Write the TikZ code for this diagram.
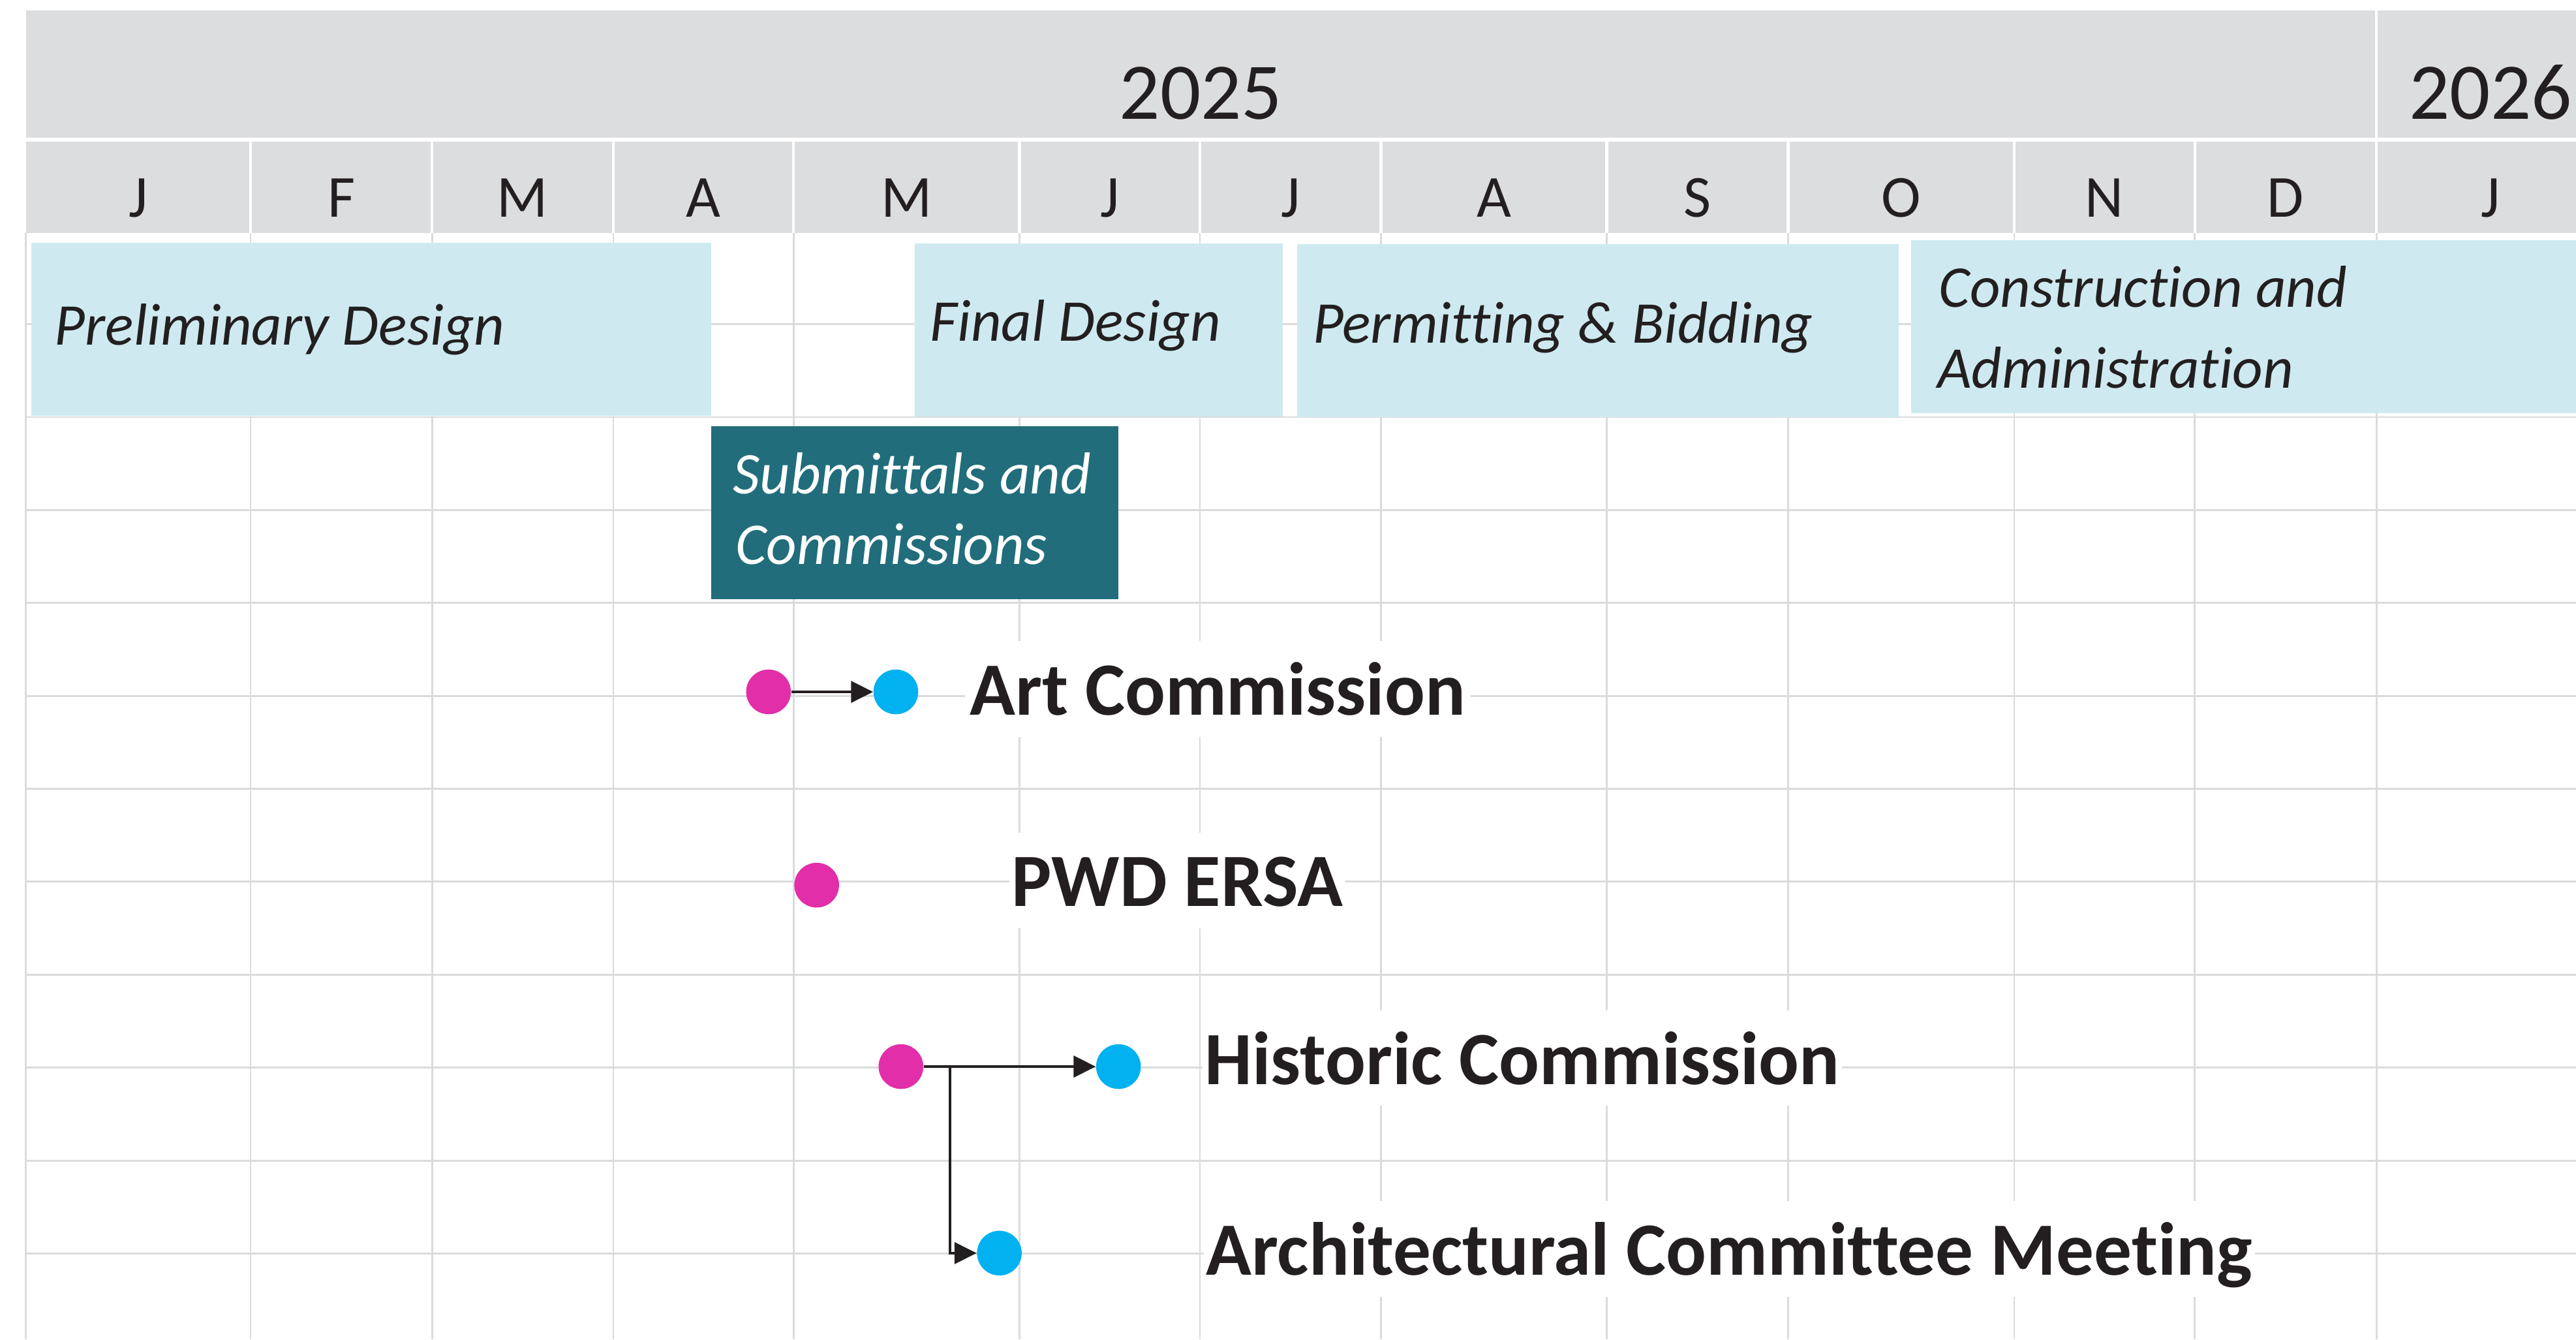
\documentclass[tikz,border=0pt]{standalone}
\usepackage{fontspec}
\setmainfont{Carlito}[Ligatures=NoCommon]
\usetikzlibrary{arrows.meta}
\definecolor{hdr}{HTML}{DCDDDF}
\definecolor{gridc}{HTML}{DADBDD}
\definecolor{lblue}{HTML}{CEEAF0}
\definecolor{teal}{HTML}{216D7B}
\definecolor{mag}{HTML}{E22EA8}
\definecolor{cyn}{HTML}{02B1EF}
\definecolor{ink}{HTML}{231F20}
\tikzset{
  gridline/.style={draw=gridc, line width=0.8pt},
  sepline/.style={draw=white, line width=1.3pt},
  yearlbl/.style={font=\fontsize{35}{42}\selectfont, text=ink, inner sep=0pt, anchor=base},
  monthlbl/.style={font=\fontsize{26}{31}\selectfont, text=ink, inner sep=0pt, anchor=base},
  barlbl/.style={font=\fontsize{25.8}{30}\selectfont\itshape, text=ink, inner sep=0pt, anchor=base west},
  evlbl/.style={font=\fontsize{32.8}{39}\selectfont\bfseries, text=ink, fill=white, inner ysep=0pt,
    text height=32.2pt, text depth=9.5pt, anchor=base west},
  dot/.style={circle, minimum size=19.5pt, inner sep=0pt},
  arr/.style={draw=ink, line width=1pt, -{Triangle[length=9.6pt,width=9.4pt]}}
}
\begin{document}
\begin{tikzpicture}[x=0.02518cm, y=-0.02518cm]
\useasboundingbox (0,0) rectangle (1568,815);
\clip (0,0) rectangle (1568,815);

% body grid
\foreach \x in {15.6,152.5,263,373.3,483,620.5,730.4,840.7,978,1088.5,1226,1336,1446.5}
  \draw[gridline] (\x,141.8) -- (\x,815);
\foreach \y in {197.3,253.8,310.4,366.9,423.5,480.0,536.5,593.0,649.6,706.2,762.7}
  \draw[gridline] (15.6,\y) -- (1568,\y);

% header bands
\fill[hdr] (16,6.4) rectangle (1568,83.8);
\fill[hdr] (16,86.3) rectangle (1568,141.8);
\draw[sepline] (1446.5,6.4) -- (1446.5,83.8);
\foreach \x in {152.5,263,373.3,483,620.5,730.4,840.7,978,1088.5,1226,1336,1446.5}
  \draw[sepline] (\x,86.3) -- (\x,141.8);

\node[yearlbl] (y2025) at (731,72.3) {2025};
\node[yearlbl] (y2026) at (1516,72.3) {2026};

\node[monthlbl] (m1) at (84.25,132.1) {J};
\node[monthlbl] (m2) at (207.75,132.1) {F};
\node[monthlbl] (m3) at (318.15,132.1) {M};
\node[monthlbl] (m4) at (428.15,132.1) {A};
\node[monthlbl] (m5) at (551.75,132.1) {M};
\node[monthlbl] (m6) at (675.45,132.1) {J};
\node[monthlbl] (m7) at (785.55,132.1) {J};
\node[monthlbl] (m8) at (909.35,132.1) {A};
\node[monthlbl] (m9) at (1033.25,132.1) {S};
\node[monthlbl] (m10) at (1157.25,132.1) {O};
\node[monthlbl] (m11) at (1281,132.1) {N};
\node[monthlbl] (m12) at (1391.25,132.1) {D};
\node[monthlbl] (m13) at (1516,132.1) {J};

% phase bars
\fill[lblue] (19,147.7) rectangle (433,253);
\fill[lblue] (557,148.2) rectangle (781,253.2);
\fill[lblue] (789.5,148.5) rectangle (1155.7,253.8);
\fill[lblue] (1163.3,146.3) rectangle (1568,251.3);
\fill[teal] (433,259.2) rectangle (680.6,364.5);

\node[barlbl] (prelim) at (33,210) {Preliminary Design};
\node[barlbl] (final) at (566,207.5) {Final Design};
\node[barlbl] (permit) at (799,208.9) {Permitting \& Bidding};
\node[barlbl] (constA) at (1180,186.9) {Construction and};
\node[barlbl] (constB) at (1179,236.3) {Administration};
\node[barlbl, text=white] (subA) at (446,300.5) {Submittals and};
\node[barlbl, text=white] (subB) at (447.5,343.5) {Commissions};

% event labels
\node[evlbl, inner xsep=2.15pt] (art) at (587,435) {Art Commission\hspace{7pt}};
\node[evlbl, inner xsep=1.07pt] (pwd) at (614,551.6) {PWD ERSA\hspace{16pt}};
\node[evlbl, inner xsep=1.07pt] (his) at (731.5,659.7) {Historic Commission\hspace{5.5pt}};
\node[evlbl, inner xsep=1.07pt] (arc) at (732.5,775.8) {Architectural Committee Meeting\hspace{5pt}};

% dots
\node[dot, fill=mag] (artS) at (467.8,421) {};
\node[dot, fill=cyn] (artE) at (545.3,421) {};
\node[dot, fill=mag] (pwdS) at (497.1,538.6) {};
\node[dot, fill=mag] (hisS) at (548.4,649) {};
\node[dot, fill=cyn] (hisE) at (680.8,649) {};
\node[dot, fill=cyn] (arcE) at (608.3,762.5) {};

% connectors
\draw[arr] (artS) -- (artE);
\draw[arr] (hisS) -- (hisE);
\coordinate (br) at (578.2,649);
\draw[arr] (br) |- (arcE);
\end{tikzpicture}
\end{document}
